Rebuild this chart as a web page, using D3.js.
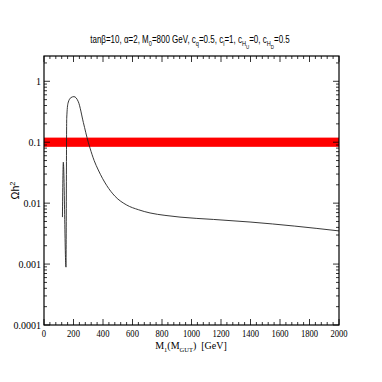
<!DOCTYPE html>
<html>
<head>
<meta charset="utf-8">
<script src="https://cdn.jsdelivr.net/npm/d3@7"></script>
<style>
  body { margin: 0; background: #fff; }
  svg { display: block; }
</style>
</head>
<body>
<div id="chart"></div>
<script>
// Chart size
const width = 382;
const height = 382;
const margin = {top: 56, right: 43, bottom: 57, left: 44};

// Relic density curve
const mass = [125, 131, 149, 154, 163, 183, 203, 233, 267, 300, 312, 340, 368, 425, 481, 561, 640, 719, 820, 922, 1150, 1397, 1700, 2000];
const omega = [0.0059, 0.047, 0.00089, 0.246, 0.44, 0.54, 0.56, 0.46, 0.21, 0.1, 0.08, 0.05, 0.035, 0.0195, 0.013, 0.0093, 0.0078, 0.0069, 0.0063, 0.0059, 0.0054, 0.0049, 0.0042, 0.0035];

// WMAP band
const bandRange = [0.084, 0.119];

// Axis ticks
const xTicks = [0, 200, 400, 600, 800, 1000, 1200, 1400, 1600, 1800, 2000];
const yTicks = [0.0001, 0.001, 0.01, 0.1, 1];
const yTickLabels = ["0.0001", "0.001", "0.01", "0.1", "1"];

function main() {
    const svg = d3.select("#chart").append("svg")
        .attr("width", width)
        .attr("height", height);

    const x = d3.scaleLinear()
        .domain([0, 2000])
        .range([margin.left, width - margin.right]);

    const y = d3.scaleLog()
        .domain([0.0001, 2.6])
        .range([height - margin.bottom, margin.top]);

    const x0 = x.range()[0], x1 = x.range()[1];
    const y0 = y.range()[0], y1 = y.range()[1];

    // red band
    svg.append("rect")
        .attr("x", x0)
        .attr("y", y(bandRange[1]))
        .attr("width", x1 - x0)
        .attr("height", y(bandRange[0]) - y(bandRange[1]))
        .attr("fill", "#ff0000");

    // curve
    const line = d3.line()
        .x((d, i) => x(mass[i]))
        .y(d => y(d))
        .curve(d3.curveMonotoneX);

    svg.append("path")
        .datum(omega)
        .attr("d", line)
        .attr("fill", "none")
        .attr("stroke", "#222")
        .attr("stroke-width", 0.9);

    // ticks (inward, all four sides)
    const ticks = svg.append("g").attr("stroke", "#000").attr("stroke-width", 0.8);
    const xMinor = d3.range(0, 2001, 40);
    xMinor.forEach(v => {
        const len = v % 200 === 0 ? 6 : 3;
        ticks.append("line").attr("x1", x(v)).attr("x2", x(v)).attr("y1", y0).attr("y2", y0 - len);
        ticks.append("line").attr("x1", x(v)).attr("x2", x(v)).attr("y1", y1).attr("y2", y1 + len);
    });
    const yMinor = [];
    [0.0001, 0.001, 0.01, 0.1, 1].forEach(dec => {
        for (let k = 1; k <= 9; k++) {
            const v = dec * k;
            if (v <= y.domain()[1]) yMinor.push({v: v, major: k === 1});
        }
    });
    yMinor.forEach(d => {
        const len = d.major ? 6 : 3;
        ticks.append("line").attr("x1", x0).attr("x2", x0 + len).attr("y1", y(d.v)).attr("y2", y(d.v));
        ticks.append("line").attr("x1", x1).attr("x2", x1 - len).attr("y1", y(d.v)).attr("y2", y(d.v));
    });

    // frame
    svg.append("rect")
        .attr("x", x0).attr("y", y1)
        .attr("width", x1 - x0).attr("height", y0 - y1)
        .attr("fill", "none")
        .attr("stroke", "#000")
        .attr("stroke-width", 1.2);

    // tick labels
    svg.append("g")
        .attr("font-family", "'Liberation Serif', 'DejaVu Serif', serif")
        .attr("font-size", 9.5)
        .attr("text-anchor", "middle")
        .selectAll("text")
        .data(xTicks)
        .join("text")
        .attr("x", d => x(d))
        .attr("y", y0 + 12)
        .attr("textLength", d => String(d).length * 4.3)
        .attr("lengthAdjust", "spacingAndGlyphs")
        .text(d => d);

    svg.append("g")
        .attr("font-family", "'Liberation Serif', 'DejaVu Serif', serif")
        .attr("font-size", 10)
        .attr("text-anchor", "end")
        .selectAll("text")
        .data(yTicks)
        .join("text")
        .attr("x", x0 - 3)
        .attr("y", d => y(d) + 4)
        .text((d, i) => yTickLabels[i]);

    // title, horizontally condensed like the original
    const title = svg.append("text")
        .attr("transform", "translate(190,43) scale(0.8,1)")
        .attr("text-anchor", "middle")
        .attr("font-family", "'Liberation Sans', Arial, sans-serif")
        .attr("font-size", 10);
    const parts = [
        ["tanβ=10, α=2, M", 0], ["0", 1], ["=800 GeV, c", 0], ["q", 1], ["=0.5, c", 0], ["l", 1],
        ["=1, c", 0], ["H", 1], ["U", 2], ["=0, c", 0], ["H", 1], ["D", 2], ["=0.5", 0]
    ];
    let level = 0;
    parts.forEach(p => {
        const t = title.append("tspan").text(p[0]);
        const shift = (p[1] - level) * 3;
        if (shift !== 0) t.attr("dy", shift);
        if (p[1] > 0) t.attr("font-size", p[1] === 1 ? 7 : 5.5);
        level = p[1];
    });

    // y label
    svg.append("text")
        .attr("transform", `translate(19,${(y0 + y1) / 2}) rotate(-90)`)
        .attr("text-anchor", "middle")
        .attr("font-family", "'Liberation Sans', Arial, sans-serif")
        .attr("font-size", 10.5)
        .call(t => {
            t.append("tspan").text("Ωh");
            t.append("tspan").attr("dy", -4).attr("font-size", 7.5).text("2");
        });

    // x label
    svg.append("text")
        .attr("x", 191)
        .attr("y", 349)
        .attr("text-anchor", "middle")
        .attr("font-family", "'Liberation Serif', 'DejaVu Serif', serif")
        .attr("font-size", 10)
        .call(t => {
            t.append("tspan").text("M");
            t.append("tspan").attr("dy", 3).attr("font-size", 6.5).text("1");
            t.append("tspan").attr("dy", -3).text("(M");
            t.append("tspan").attr("dy", 3).attr("font-size", 6.5).text("GUT");
            t.append("tspan").attr("dy", -3).text(")\u00a0\u00a0[GeV]");
        });
}

main();
</script>
</body>
</html>
